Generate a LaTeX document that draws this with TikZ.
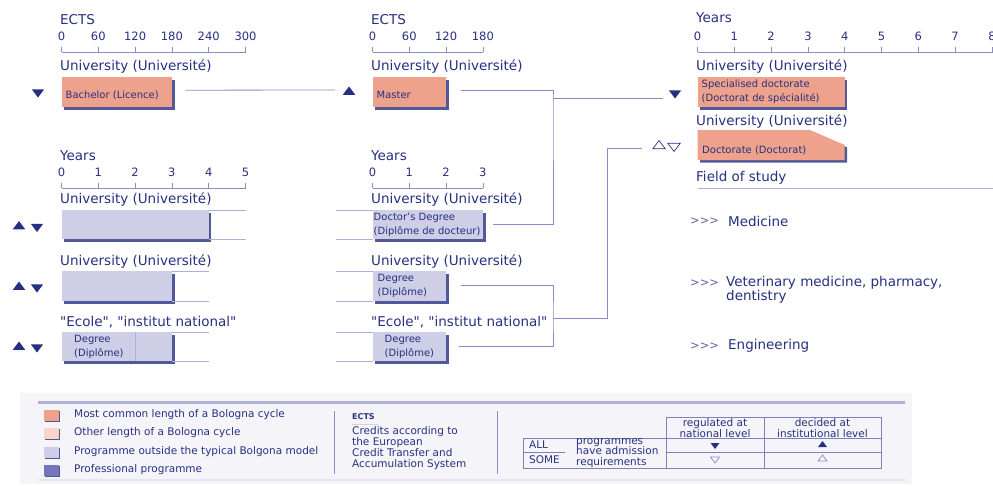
\documentclass[tikz,border=0pt]{standalone}
\usepackage{fontspec}
\setmainfont{DejaVu Sans}
\usetikzlibrary{shapes.geometric,shadows}
\definecolor{ink}{RGB}{38,48,128}
\definecolor{cycle}{RGB}{238,162,140}
\definecolor{othercycle}{RGB}{249,214,200}
\definecolor{outside}{RGB}{206,206,230}
\definecolor{profess}{RGB}{118,118,186}
\definecolor{wire}{RGB}{140,140,196}
\definecolor{rim}{RGB}{176,176,214}
\definecolor{panel}{RGB}{245,245,249}
\begin{document}
\begin{tikzpicture}[
  x=1pt, y=-1pt,
  every node/.style = {text=ink, inner sep=0pt},
  head/.style = {anchor=west, font=\fontsize{13.5}{15}\selectfont},
  num/.style = {font=\fontsize{11.5}{13}\selectfont},
  axis/.style = {draw=wire, line width=.8pt},
  lift/.style = {drop shadow={shadow xshift=2.5pt, shadow yshift=-2.5pt, fill=ink, opacity=.8}},
  prog/.style = {anchor=north west, minimum height=30pt, lift},
  boxtext/.style = {anchor=west, align=left, font=\fontsize{10}{14}\selectfont},
  conn/.style = {draw=wire, line width=.8pt},
  frame/.style = {draw=rim, line width=.8pt},
  tri/.style = {regular polygon, regular polygon sides=3, minimum size=11pt, xscale=1.3, fill=ink},
  pointdown/.style = {shape border rotate=180},
  hollow/.style = {fill=none, draw=ink, line width=.7pt},
  mini/.style = {minimum size=8pt},
  field/.style = {anchor=west, align=left, font=\fontsize{13.5}{14}\selectfont},
  chevrons/.style = {anchor=west, text=ink!75, font=\fontsize{11.5}{12}\selectfont},
  swatch/.style = {minimum width=15pt, minimum height=11pt,
    drop shadow={shadow xshift=1.5pt, shadow yshift=-1.5pt, fill=ink, opacity=.8}},
  legtext/.style = {anchor=west, font=\fontsize{10.5}{11}\selectfont},
  tabtext/.style = {align=center, font=\fontsize{10.5}{10.5}\selectfont},
  grid/.style = {draw=ink!60, line width=.7pt}
]
\useasboundingbox (0,0) rectangle (993,485);

\node[head] (ectsA) at (60,20) {ECTS};
\foreach \v [count=\i from 0] in {0,60,120,180,240,300} {
  \node[num] (ectsA\i) at (61.5+36.8*\i,36) {\v};
  \draw[axis] (61.5+36.8*\i,47) -- (61.5+36.8*\i,52);
}
\draw[axis] (61.5,52) -- (245.5,52);
\node[head] (uniA) at (60,67) {University (Université)};
\node[prog, fill=cycle, minimum width=110.4pt] (bachelor) at (61.5,77) {};
\node[boxtext] (bachelorT) at ([xshift=4pt,yshift=-3pt]bachelor.west) {Bachelor (Licence)};
\node[tri, pointdown] (bachelorD) at (38,92) {};

\node[head] (ectsB) at (371,20) {ECTS};
\foreach \v [count=\i from 0] in {0,60,120,180} {
  \node[num] (ectsB\i) at (372.5+36.8*\i,36) {\v};
  \draw[axis] (372.5+36.8*\i,47) -- (372.5+36.8*\i,52);
}
\draw[axis] (372.5,52) -- (482.9,52);
\node[head] (uniB) at (371,67) {University (Université)};
\node[prog, fill=cycle, minimum width=73.6pt] (master) at (372.5,77) {};
\node[boxtext] (masterT) at ([xshift=4pt,yshift=-3pt]master.west) {Master};
\node[tri] (masterU) at (349,92) {};
\draw[conn] ([xshift=13pt,yshift=2pt]bachelor.east) -- ([xshift=-14pt,yshift=2pt]masterU.center);

\node[head] (yearsC) at (696,18) {Years};
\foreach \i in {0,...,8} {
  \node[num] (yearsC\i) at (697.5+36.8*\i,36) {\i};
  \draw[axis] (697.5+36.8*\i,47) -- (697.5+36.8*\i,52);
}
\draw[axis] (697.5,52) -- (993,52);
\node[head] (uniC) at (696,67) {University (Université)};
\node[prog, fill=cycle, minimum width=147.2pt] (specdoc) at (697.5,77) {};
\node[boxtext] (specdocT) at ([xshift=4pt]specdoc.west) {Specialised doctorate\\(Doctorat de spécialité)};
\node[tri, pointdown] (specdocD) at (675,93) {};
\node[head] (uniD) at (696,122) {University (Université)};
\path[fill=cycle, lift] (697.5,130) -- (810,130) -- (844.7,145) -- (844.7,160) -- (697.5,160) -- cycle;
\node[boxtext] (doctoratT) at (702,150) {Doctorate (Doctorat)};
\node[tri, hollow] (doctoratU) at (659,146) {};
\node[tri, hollow, pointdown] (doctoratD) at (674,146) {};
\node[head] (fieldT) at (696,178) {Field of study};
\draw[frame] (697.5,188) -- (993,188);

\node[head] (yearsE) at (60,156) {Years};
\foreach \i in {0,...,5} {
  \node[num] (yearsE\i) at (61.5+36.8*\i,172) {\i};
  \draw[axis] (61.5+36.8*\i,183) -- (61.5+36.8*\i,188);
}
\draw[axis] (61.5,188) -- (245.5,188);
\node[head] (uniE) at (60,200) {University (Université)};
\node[prog, fill=outside, minimum width=147.2pt, minimum height=29pt] (uniL) at (61.5,210) {};
\draw[frame] (uniL.north east) -- ++(37,0) (uniL.south east) -- ++(37,0);
\node[tri] (uniLU) at (19,226.5) {};
\node[tri, pointdown] (uniLD) at (37,226.5) {};
\node[head] (uniH) at (60,261) {University (Université)};
\node[prog, fill=outside, minimum width=110.4pt] (uniM) at (61.5,271) {};
\draw[frame] (uniM.north east) -- ++(37,0) (uniM.south east) -- ++(37,0);
\node[tri] (uniMU) at (19,287) {};
\node[tri, pointdown] (uniMD) at (37,287) {};
\node[head] (ecoleE) at (60,322) {\textquotedbl Ecole\textquotedbl, \textquotedbl institut national\textquotedbl};
\node[prog, fill=outside, minimum width=110.4pt, minimum height=29pt] (ecoleL) at (61.5,332) {};
\draw[frame] (135.1,332) -- (135.1,361);
\node[boxtext] (ecoleLT) at (74,347) {Degree\\(Diplôme)};
\draw[frame] (ecoleL.north east) -- ++(37,0) (ecoleL.south east) -- ++(37,0);
\node[tri] (ecoleLU) at (19,347) {};
\node[tri, pointdown] (ecoleLD) at (37,347) {};

\node[head] (yearsF) at (371,156) {Years};
\foreach \i in {0,...,3} {
  \node[num] (yearsF\i) at (372.5+36.8*\i,172) {\i};
  \draw[axis] (372.5+36.8*\i,183) -- (372.5+36.8*\i,188);
}
\draw[axis] (372.5,188) -- (482.9,188);
\node[head] (uniF) at (371,200) {University (Université)};
\node[prog, fill=outside, minimum width=110.4pt, minimum height=29pt] (docdeg) at (372.5,210) {};
\node[boxtext] (docdegT) at ([xshift=1pt]docdeg.west) {Doctor's Degree\\(Diplôme de docteur)};
\draw[frame] (docdeg.north west) -- ++(-37,0) (docdeg.south west) -- ++(-37,0);
\node[head] (uniG) at (371,261) {University (Université)};
\node[prog, fill=outside, minimum width=73.6pt] (degree) at (372.5,271) {};
\node[boxtext] (degreeT) at ([xshift=5pt]degree.west) {Degree\\(Diplôme)};
\draw[frame] (degree.north west) -- ++(-37,0) (degree.south west) -- ++(-37,0);
\node[head] (ecoleG) at (371,322) {\textquotedbl Ecole\textquotedbl, \textquotedbl institut national\textquotedbl};
\node[prog, fill=outside, minimum width=73.6pt, minimum height=29pt] (ecoledeg) at (372.5,332) {};
\node[boxtext] (ecoledegT) at ([xshift=12pt]ecoledeg.west) {Degree\\(Diplôme)};
\draw[frame] (ecoledeg.north west) -- ++(-37,0) (ecoledeg.south west) -- ++(-37,0);

\coordinate (jtop) at (553,98);
\draw[conn] ([xshift=14pt,yshift=2pt]master.east) -| (jtop) |- ([xshift=10pt]docdeg.east);
\draw[conn] (jtop) -- ([xshift=-8pt]specdocD.west |- jtop);
\coordinate (jlow) at (553,318);
\coordinate (jmid) at (607,148);
\draw[conn] ([xshift=14pt,yshift=1pt]degree.east) -| (jlow) |- ([xshift=12pt]ecoledeg.east);
\draw[conn] (jlow) -| (jmid) -- ([xshift=-12pt]doctoratU.west |- jmid);

\node[chevrons] (arrowsA) at (690,221) {>{}>{}>};
\node[field] (medicine) at (728,221) {Medicine};
\node[chevrons] (arrowsB) at (690,283) {>{}>{}>};
\node[field] (vet) at (726,290) {Veterinary medicine, pharmacy,\\dentistry};
\node[chevrons] (arrowsC) at (690,346) {>{}>{}>};
\node[field] (engineering) at (728,346) {Engineering};

\fill[panel] (20,393) rectangle (912,484);
\draw[rim, line width=3pt] (38,402) -- (905,402);
\draw[white!88!ink, line width=1.2pt] (38,480) -- (905,480);
\node[swatch, fill=cycle] (swA) at (51,415) {};
\node[legtext] (legA) at (74,415) {Most common length of a Bologna cycle};
\node[swatch, fill=othercycle] (swB) at (51,433) {};
\node[legtext] (legB) at (74,433) {Other length of a Bologna cycle};
\node[swatch, fill=outside] (swC) at (51,452) {};
\node[legtext] (legC) at (74,452) {Programme outside the typical Bolgona model};
\node[swatch, fill=profess] (swD) at (51,470) {};
\node[legtext] (legD) at (74,470) {Professional programme};
\draw[axis] (334,411) -- (334,474);
\node[legtext, font=\bfseries\fontsize{8}{9}\selectfont] (ectsL) at (352,417) {ECTS};
\draw[rim!60, line width=.6pt] (352,424.5) -- (378,424.5);
\node[legtext, align=left] (ectsD) at (352,448) {Credits according to\\the European\\Credit Transfer and\\Accumulation System};
\draw[axis] (497,411) -- (497,474);

\draw[grid] (666,417) rectangle (881,438);
\draw[grid] (523,438) rectangle (881,468);
\draw[grid] (666,417) -- (666,468) (764,417) -- (764,468);
\draw[grid] (523,452) -- (565,452) (666,452) -- (881,452);
\node[tabtext] (hReg) at (715,428) {regulated at\\national level};
\node[tabtext] (hDec) at (822.5,428) {decided at\\institutional level};
\node[tabtext, anchor=west] (rAll) at (529,445) {ALL};
\node[tabtext, anchor=west] (rSome) at (529,460) {SOME};
\node[tabtext, anchor=west, align=left] (rProg) at (576,453) {programmes\\have admission\\requirements};
\node[tri, mini, pointdown] (allReg) at (715,445) {};
\node[tri, mini] (allDec) at (822.5,445) {};
\node[tri, mini, hollow, draw=wire, pointdown] (someReg) at (715,459) {};
\node[tri, mini, hollow, draw=wire] (someDec) at (822.5,459) {};
\end{tikzpicture}
\end{document}
